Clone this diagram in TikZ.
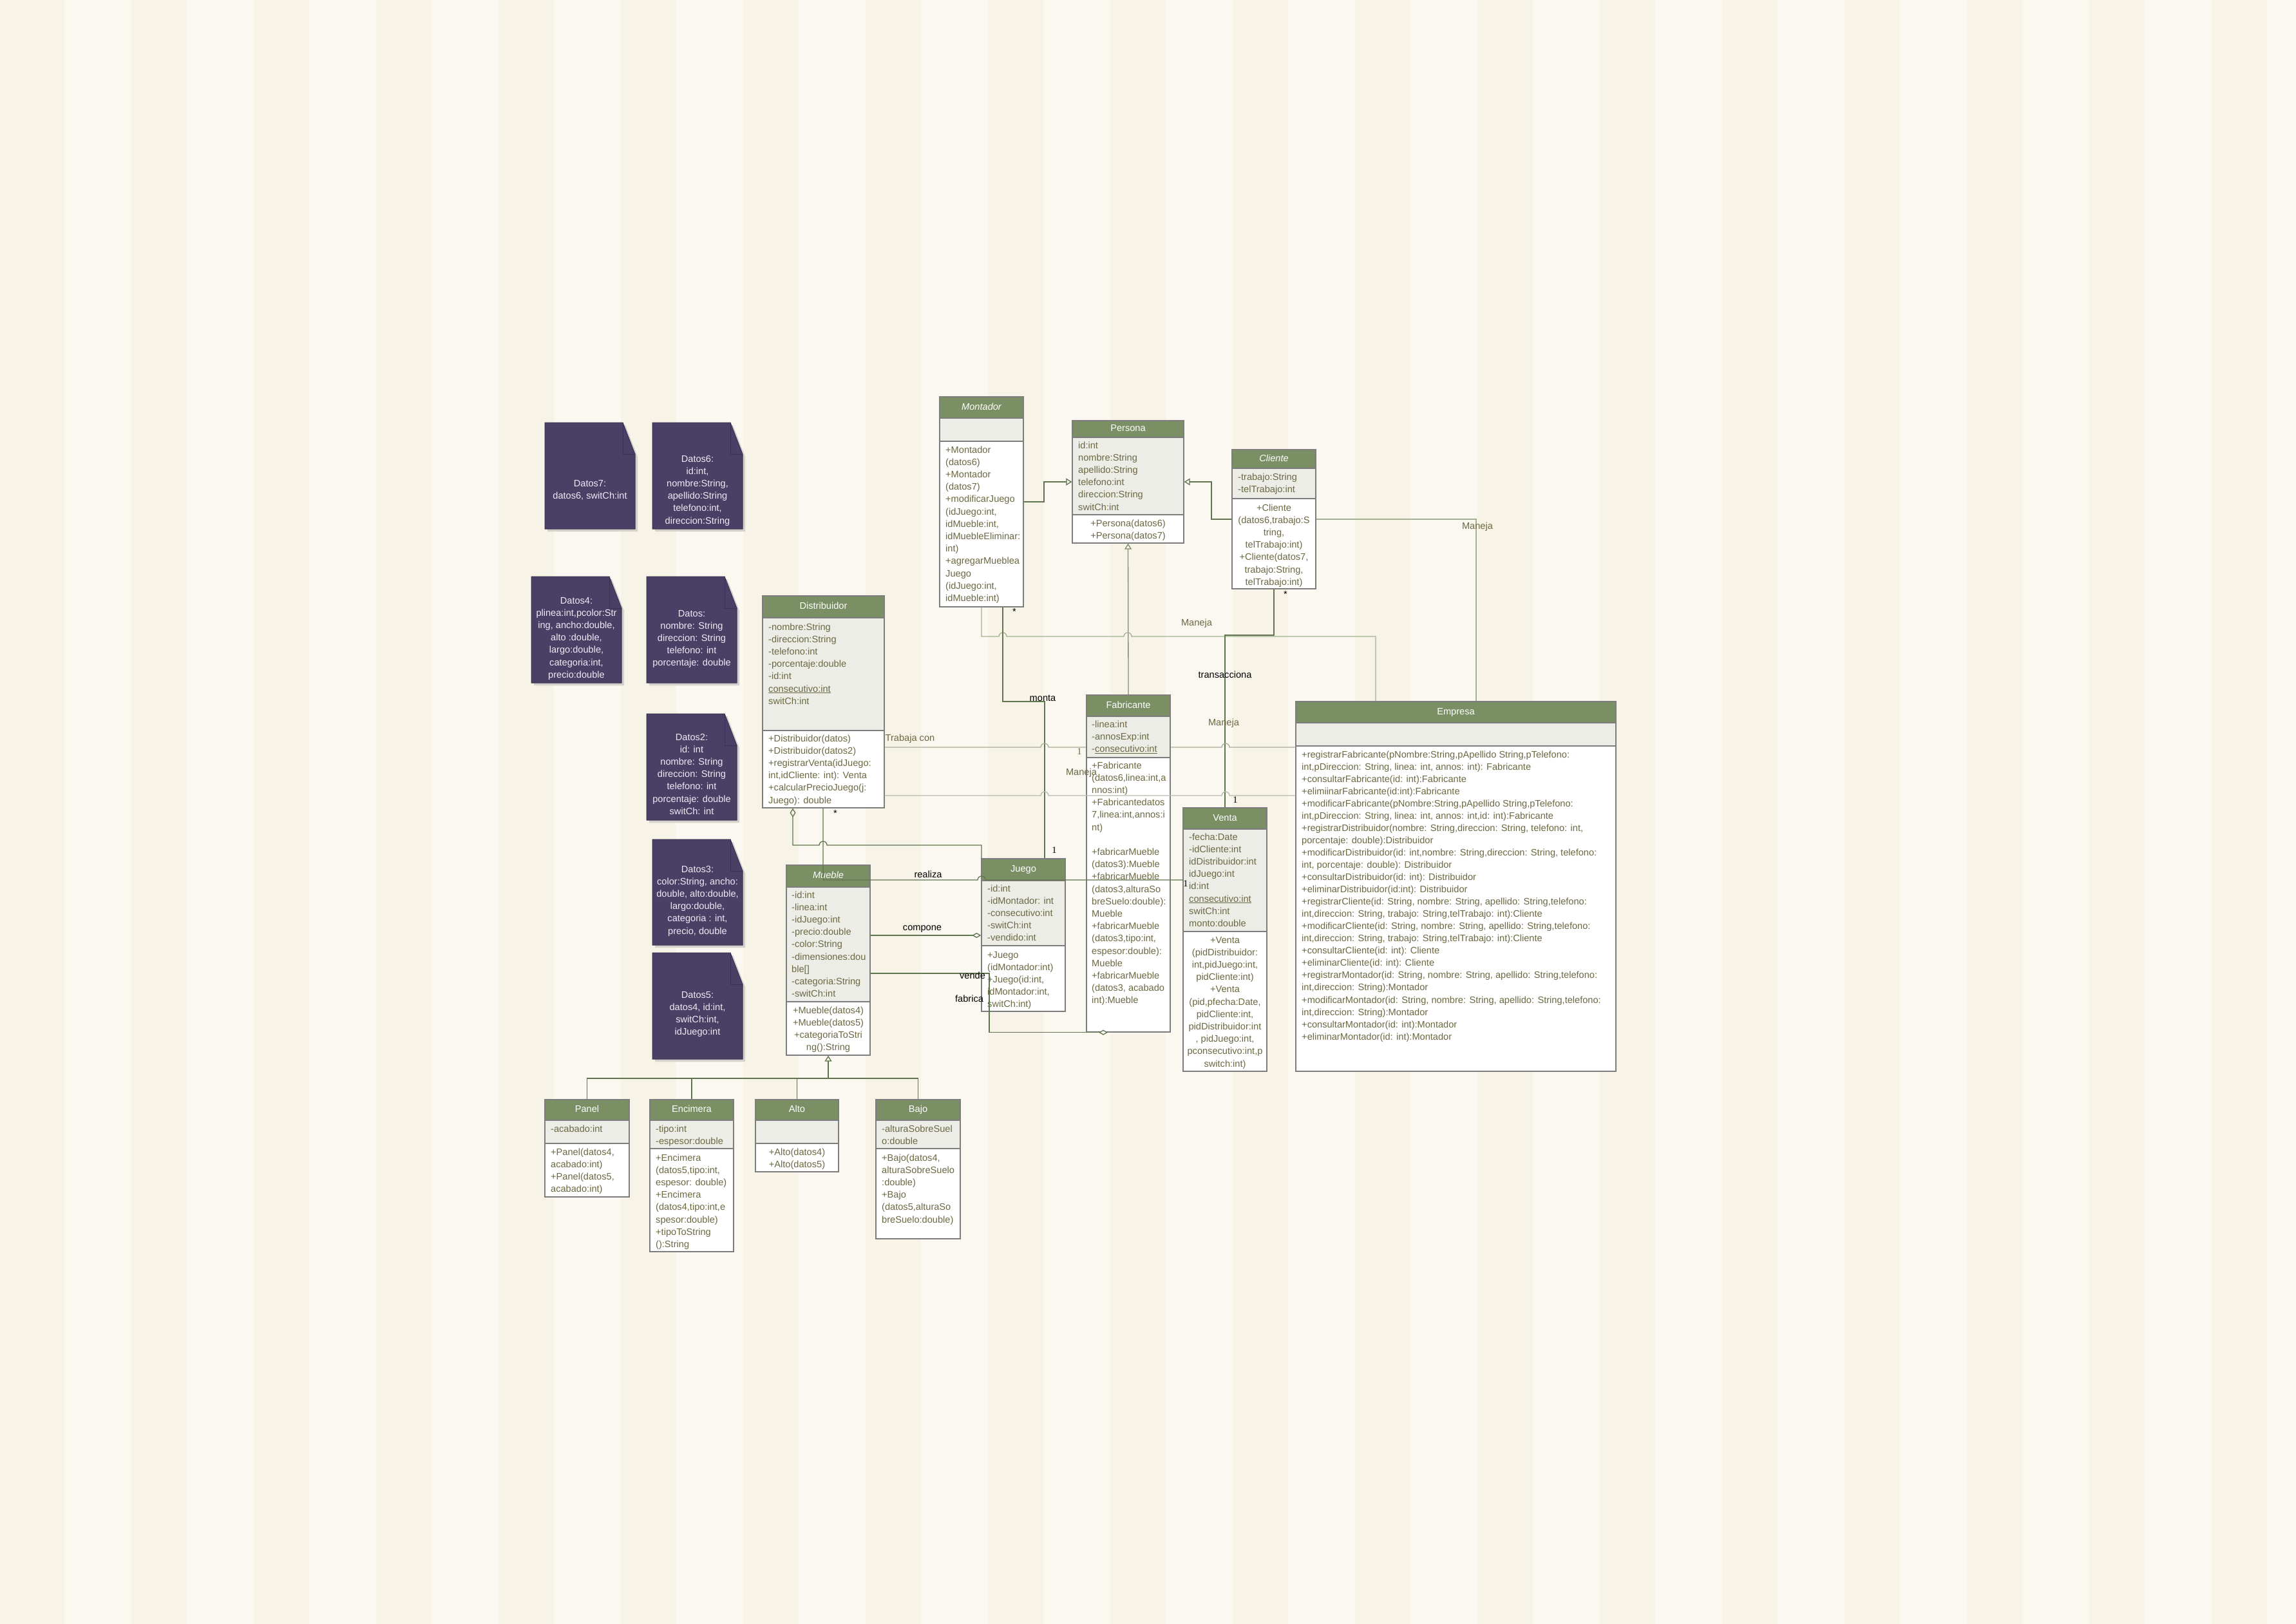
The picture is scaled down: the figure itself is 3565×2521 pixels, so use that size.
\documentclass[tikz,border=0pt]{standalone}
\usepackage{fontspec}
\setmainfont{Liberation Sans}
\newfontfamily\numfont{Liberation Serif}
\usetikzlibrary{arrows.meta,fit}

\definecolor{stripeA}{RGB}{247,243,231}
\definecolor{stripeB}{RGB}{250,248,241}
\definecolor{hdrgreen}{RGB}{122,143,100}
\definecolor{attrfill}{RGB}{236,237,231}
\definecolor{boxgray}{RGB}{125,125,125}
\definecolor{txtc}{RGB}{108,104,66}
\definecolor{linkdark}{RGB}{96,116,78}
\definecolor{linkmid}{RGB}{124,142,106}
\definecolor{linklight}{RGB}{164,176,146}
\definecolor{linkpale}{RGB}{182,188,172}
\definecolor{notefill}{RGB}{73,64,102}
\definecolor{noteedge}{RGB}{58,51,82}
\definecolor{noteshadow}{RGB}{212,208,204}
\definecolor{notetext}{RGB}{238,235,245}

\newcommand\cfont{\fontsize{14.6}{17.5}\selectfont}

\tikzset{
  x=1pt, y=-1pt,
  classframe/.style={draw=boxgray, line width=1.4pt, inner sep=0pt},
  titletext/.style={text=white, font=\cfont, inner sep=0pt, text height=10pt, text depth=3pt},
  ctext/.style={text=txtc, font=\cfont, inner sep=0pt},
  ntext/.style={text=notetext, font=\cfont, inner sep=0pt},
  lbl/.style={text=black, font=\cfont, inner sep=0pt},
  mlbl/.style={text=txtc, font=\cfont, inner sep=0pt},
  num/.style={text=black, font=\numfont\fontsize{14.6}{17.5}\selectfont, inner sep=0pt},
  link/.style={draw=linkdark, line width=1.3pt},
  midlink/.style={draw=linkmid, line width=1.3pt},
  lightlink/.style={draw=linklight, line width=1.3pt},
  palelink/.style={draw=linkpale, line width=1.3pt},
  gen/.style={-{Triangle[open,length=9pt,width=11pt]}},
  agg/.style={-{Diamond[open,length=14pt,width=8pt]}},
}

% rows of text, one node per row
\newcommand\textrows[7]{%
  \foreach \row [count=\k] in {#7}{%
    \node[#1, anchor=#5] (#2\k) at (#3,{#4+(\k-1)*#6}) {\row};
  }%
}

% class box: name, x1, top, x2, header bottom, attribute bottom, bottom, title
\newcommand\umlclass[8]{%
  \fill[hdrgreen] (#2,#3) rectangle (#4,#5);
  \fill[attrfill] (#2,#5) rectangle (#4,#6);
  \fill[white] (#2,#6) rectangle (#4,#7);
  \draw[boxgray, line width=1.3pt] (#2,#5) -- (#4,#5) (#2,#6) -- (#4,#6);
  \node[classframe, fit={(#2,#3) (#4,#7)}] (#1) {};
  \node[titletext] (#1-title) at ({(#2+#4)/2},{(#3+#5)/2}) {#8};
}

% note with folded corner: name, x1, y1, x2, y2, first baseline, rows
\newcommand\notebox[7]{%
  \fill[noteshadow] ({#2+4},{#3+4}) -- ({#4-15},{#3+4}) -- ({#4+4},{#3+53}) -- ({#4+4},{#5+4}) -- ({#2+4},{#5+4}) -- cycle;
  \filldraw[fill=notefill, draw=noteedge, line width=1pt] (#2,#3) -- ({#4-19},#3) -- (#4,{#3+49}) -- (#4,#5) -- (#2,#5) -- cycle;
  \draw[noteedge, line width=1pt] ({#4-19},#3) -- ({#4-19},{#3+49}) -- (#4,{#3+49});
  \node[inner sep=0pt, fit={(#2,#3) (#4,#5)}] (#1) {};
  \textrows{ntext}{#1-}{{(#2+#4)/2}}{#6}{base}{19.2}{#7}%
}

\begin{document}
\begin{tikzpicture}
\useasboundingbox (0,0) rectangle (3565,2521);
% striped paper
\fill[stripeA] (0,0) rectangle (3565,2521);
\foreach \s in {0,...,18} \fill[stripeB] ({100+190*\s},0) rectangle ({min(204+190*\s,3565)},2521);

% constructor data notes
\notebox{d7}{846}{656}{986}{821}{755}{{Datos7:},{datos6, switCh:int}}
\notebox{d6}{1013}{656}{1153}{821}{717}{{Datos6:},{id:int,},{nombre:String,},{apellido:String},{telefono:int,},{direccion:String}}
\notebox{d4}{825}{895}{965}{1060}{937}{{Datos4:},{plinea:int,pcolor:Str},{ing, ancho:double,},{alto :double,},{largo:double,},{categoria:int,},{precio:double}}
\notebox{d1}{1004}{895}{1144}{1060}{957}{{Datos:},{nombre: String},{direccion: String},{telefono: int},{porcentaje: double}}
\notebox{d2}{1004}{1108}{1144}{1273}{1149}{{Datos2:},{id: int},{nombre: String},{direccion: String},{telefono: int},{porcentaje: double},{switCh: int}}
\notebox{d3}{1013}{1303}{1153}{1467}{1354}{{Datos3:},{color:String, ancho:},{double, alto:double,},{largo:double,},{categoria : int,},{precio, double}}
\notebox{d5}{1013}{1479}{1153}{1644}{1549}{{Datos5:},{datos4, id:int,},{switCh:int,},{idJuego:int}}

% classes
\umlclass{montador}{1459}{616}{1589}{649}{685}{942}{\itshape Montador}
\textrows{ctext}{montador-m}{1468}{703}{base west}{19.2}{{+Montador},{(datos6)},{+Montador},{(datos7)},{+modificarJuego},{(idJuego:int,},{idMueble:int,},{idMuebleEliminar:},{int)},{+agregarMueblea},{Juego},{(idJuego:int,},{idMueble:int)}}

\umlclass{persona}{1665}{653}{1838}{679}{799}{843}{Persona}
\textrows{ctext}{persona-a}{1674}{696}{base west}{19.2}{{id:int},{nombre:String},{apellido:String},{telefono:int},{direccion:String},{switCh:int}}
\textrows{ctext}{persona-m}{1751.5}{817}{base}{19.2}{{+Persona(datos6)},{+Persona(datos7)}}

\umlclass{cliente}{1913}{698}{2043}{727}{774}{914}{\itshape Cliente}
\textrows{ctext}{cliente-a}{1922}{745}{base west}{19.2}{{-trabajo:String},{-telTrabajo:int}}
\textrows{ctext}{cliente-m}{1978}{793}{base}{19.2}{{+Cliente},{(datos6,trabajo:S},{tring,},{telTrabajo:int)},{+Cliente(datos7,},{trabajo:String,},{telTrabajo:int)}}

\umlclass{distribuidor}{1184}{925}{1373}{959}{1134}{1254}{Distribuidor}
\textrows{ctext}{distribuidor-a}{1193}{978}{base west}{19.2}{{-nombre:String},{-direccion:String},{-telefono:int},{-porcentaje:double},{-id:int},{\underline{consecutivo:int}},{switCh:int}}
\textrows{ctext}{distribuidor-m}{1193}{1151}{base west}{19.2}{{+Distribuidor(datos)},{+Distribuidor(datos2)},{+registrarVenta(idJuego:},{int,idCliente: int): Venta},{+calcularPrecioJuego(j:},{Juego): double}}

\umlclass{fabricante}{1687}{1079}{1817}{1112}{1176}{1602}{Fabricante}
\textrows{ctext}{fabricante-a}{1695}{1129}{base west}{19.2}{{-linea:int},{-annosExp:int},{-\underline{consecutivo:int}}}
\textrows{ctext}{fabricante-m}{1695}{1193}{base west}{19.2}{{+Fabricante},{(datos6,linea:int,a},{nnos:int)},{+Fabricantedatos},{7,linea:int,annos:i},{nt)},{},{+fabricarMueble},{(datos3):Mueble},{+fabricarMueble},{(datos3,alturaSo},{breSuelo:double):},{Mueble},{+fabricarMueble},{(datos3,tipo:int,},{espesor:double):},{Mueble},{+fabricarMueble},{(datos3, acabado},{int):Mueble}}

\umlclass{venta}{1837}{1254}{1967}{1287}{1446}{1663}{Venta}
\textrows{ctext}{venta-a}{1846}{1304}{base west}{19.2}{{-fecha:Date},{-idCliente:int},{idDistribuidor:int},{idJuego:int},{id:int},{\underline{consecutivo:int}},{switCh:int},{monto:double}}
\textrows{ctext}{venta-m}{1902}{1464}{base}{19.2}{{+Venta},{(pidDistribuidor:},{int,pidJuego:int,},{pidCliente:int)},{+Venta},{(pid,pfecha:Date,},{pidCliente:int,},{pidDistribuidor:int},{, pidJuego:int,},{pconsecutivo:int,p},{switch:int)}}

\umlclass{empresa}{2012}{1089}{2509}{1122}{1158}{1663}{Empresa}
\textrows{ctext}{empresa-m}{2021}{1176}{base west}{19.05}{%
{+registrarFabricante(pNombre:String,pApellido String,pTelefono:},
{int,pDireccion: String, linea: int, annos: int): Fabricante},
{+consultarFabricante(id: int):Fabricante},
{+elimiinarFabricante(id:int):Fabricante},
{+modificarFabricante(pNombre:String,pApellido String,pTelefono:},
{int,pDireccion: String, linea: int, annos: int,id: int):Fabricante},
{+registrarDistribuidor(nombre: String,direccion: String, telefono: int,},
{porcentaje: double):Distribuidor},
{+modificarDistribuidor(id: int,nombre: String,direccion: String, telefono:},
{int, porcentaje: double): Distribuidor},
{+consultarDistribuidor(id: int): Distribuidor},
{+eliminarDistribuidor(id:int): Distribuidor},
{+registrarCliente(id: String, nombre: String, apellido: String,telefono:},
{int,direccion: String, trabajo: String,telTrabajo: int):Cliente},
{+modificarCliente(id: String, nombre: String, apellido: String,telefono:},
{int,direccion: String, trabajo: String,telTrabajo: int):Cliente},
{+consultarCliente(id: int): Cliente},
{+eliminarCliente(id: int): Cliente},
{+registrarMontador(id: String, nombre: String, apellido: String,telefono:},
{int,direccion: String):Montador},
{+modificarMontador(id: String, nombre: String, apellido: String,telefono:},
{int,direccion: String):Montador},
{+consultarMontador(id: int):Montador},
{+eliminarMontador(id: int):Montador}}

\umlclass{mueble}{1221}{1343}{1351}{1377}{1555}{1638}{\itshape Mueble}
\textrows{ctext}{mueble-a}{1229}{1394}{base west}{19.2}{{-id:int},{-linea:int},{-idJuego:int},{-precio:double},{-color:String},{-dimensiones:dou},{ble[]},{-categoria:String},{-switCh:int}}
\textrows{ctext}{mueble-m}{1286}{1573}{base}{19.2}{{+Mueble(datos4)},{+Mueble(datos5)},{+categoriaToStri},{ng():String}}

\umlclass{juego}{1524}{1333}{1654}{1367}{1468}{1570}{Juego}
\textrows{ctext}{juego-a}{1533}{1384}{base west}{19.2}{{-id:int},{-idMontador: int},{-consecutivo:int},{-switCh:int},{-vendido:int}}
\textrows{ctext}{juego-m}{1533}{1487}{base west}{19.2}{{+Juego},{(idMontador:int)},{+Juego(id:int,},{idMontador:int,},{switCh:int)}}

\umlclass{panel}{846}{1707}{977}{1739}{1775}{1858}{Panel}
\textrows{ctext}{panel-a}{855}{1757}{base west}{19.2}{{-acabado:int}}
\textrows{ctext}{panel-m}{855}{1793}{base west}{19.2}{{+Panel(datos4,},{acabado:int)},{+Panel(datos5,},{acabado:int)}}

\umlclass{encimera}{1009}{1707}{1139}{1739}{1783}{1943}{Encimera}
\textrows{ctext}{encimera-a}{1018}{1757}{base west}{19.2}{{-tipo:int},{-espesor:double}}
\textrows{ctext}{encimera-m}{1018}{1802}{base west}{19.2}{{+Encimera},{(datos5,tipo:int,},{espesor: double)},{+Encimera},{(datos4,tipo:int,e},{spesor:double)},{+tipoToString},{():String}}

\umlclass{alto}{1173}{1707}{1302}{1739}{1775}{1819}{Alto}
\textrows{ctext}{alto-m}{1237.5}{1793}{base}{19.2}{{+Alto(datos4)},{+Alto(datos5)}}

\umlclass{bajo}{1360}{1707}{1491}{1739}{1783}{1923}{Bajo}
\textrows{ctext}{bajo-a}{1369}{1757}{base west}{19.2}{{-alturaSobreSuel},{o:double}}
\textrows{ctext}{bajo-m}{1369}{1802}{base west}{19.2}{{+Bajo(datos4,},{alturaSobreSuelo},{:double)},{+Bajo},{(datos5,alturaSo},{breSuelo:double)}}

% inheritance
\draw[link, gen] (montador.east |- 0,779) -| (1621,748) -- (persona.west |- 0,748);
\draw[link, gen] (cliente.west |- 0,806) -| (1881,748) -- (persona.east |- 0,748);
\draw[midlink, gen] (fabricante.north) -- (persona.south);
\coordinate (hub) at (1286,1674);
\draw[link] (panel.north) |- (hub) -| (bajo.north);
\draw[link] (encimera.north) -- (encimera.north |- hub);
\draw[link] (alto.north) -- (alto.north |- hub);
\draw[link, gen] (hub) -- (mueble.south);

% associations
\draw[lightlink] (montador.south) -- (1524,988) -- (1551,988) arc[start angle=180,end angle=0,radius=6pt] -- (1745,988) arc[start angle=180,end angle=0,radius=6pt] -- (2136,988) -- (empresa.north -| 2136,0);
\draw[link] (montador.south -| 1557,0) -- (1557,1089) -| (juego.north -| 1622,0);
\draw[link] (cliente.south) -- (1978,986) -| (venta.north);
\draw[lightlink] (cliente.east |- 0,806) -| (empresa.north -| 2292,0);
\draw[lightlink] (distribuidor.east |- 0,1160) -- (1616,1160) arc[start angle=180,end angle=0,radius=6pt] -- (fabricante.west |- 0,1160);
\draw[lightlink] (fabricante.east |- 0,1160) -- (1897,1160) arc[start angle=180,end angle=0,radius=6pt] -- (empresa.west |- 0,1160);
\draw[palelink] (distribuidor.east |- 0,1235) -- (1616,1235) arc[start angle=180,end angle=0,radius=6pt] -- (1897,1235) arc[start angle=180,end angle=0,radius=6pt] -- (empresa.west |- 0,1235);
\draw[link, {Diamond[open,length=14pt,width=9pt]}-] (distribuidor.south -| 1231,0) -- (1231,1312) -- (1272,1312) arc[start angle=180,end angle=0,radius=6pt] -- (1524,1312) -- (juego.north -| 1524,0);
\draw[link] (distribuidor.south -| 1278,0) -- (1278,1366) -- (1518,1366) arc[start angle=180,end angle=0,radius=6pt] -- (venta.west |- 0,1366);
\draw[link, agg] (mueble.east |- 0,1452) -- (juego.west |- 0,1452);
\draw[link, -{Diamond[open,fill=white,length=14pt,width=8pt]}] (mueble.east |- 0,1511) -- (1536,1511) |- (fabricante.south -| 1720,0);

% association names and multiplicities
\node[mlbl] (lbl-maneja1) at (1858,968) {Maneja};
\node[mlbl] (lbl-maneja2) at (1900,1123) {Maneja};
\node[mlbl] (lbl-maneja3) at (1679,1200) {Maneja};
\node[mlbl] (lbl-maneja4) at (2294,818) {Maneja};
\node[mlbl] (lbl-trabaja) at (1413,1147) {Trabaja con};
\node[lbl] (lbl-monta) at (1619,1084) {monta};
\node[lbl] (lbl-trans) at (1902,1047) {transacciona};
\node[lbl] (lbl-realiza) at (1441,1357) {realiza};
\node[lbl] (lbl-compone) at (1432,1442) {compone};
\node[lbl] (lbl-vende) at (1510,1514) {vende};
\node[lbl] (lbl-fabrica) at (1505,1550) {fabrica};
\node[lbl] (m-montador) at (1575,949) {*};
\node[num] (m-juego) at (1637,1320) {1};
\node[lbl] (m-cliente) at (1996,922) {*};
\node[num] (m-venta1) at (1918,1242) {1};
\node[num, text=txtc] (m-fabricante) at (1676,1167) {1};
\node[lbl] (m-distribuidor) at (1297,1262) {*};
\node[num] (m-venta2) at (1841,1372) {1};
\end{tikzpicture}
\end{document}
